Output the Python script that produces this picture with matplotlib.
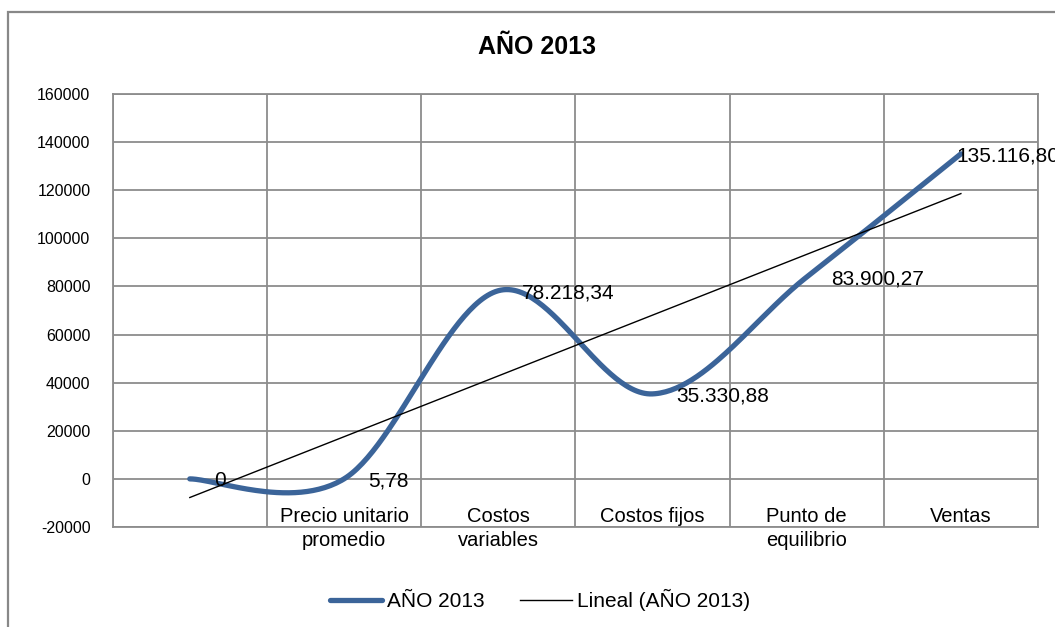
import numpy as np
import matplotlib
matplotlib.use("Agg")
import matplotlib.pyplot as plt
from matplotlib.patches import Rectangle

##WWww=--  data section: --=wwWW##
categorias = ["", "Precio unitario\npromedio", "Costos\nvariables",
              "Costos fijos", "Punto de\nequilibrio", "Ventas"]
valores    = [0.0, 5.78, 78218.34, 35330.88, 83900.27, 135116.80]
etiquetas  = ["0", "5,78", "78.218,34", "35.330,88", "83.900,27", "135.116,80"]
yticks     = list(range(-20000, 160001, 20000))

serie      = "AÑO 2013"
tendencia  = "Lineal (AÑO 2013)"

#################################
def catmull_rom(x, y, n=60):
    """ smoothed line like Excel's 'smooth line' option """
    P = np.column_stack([x, y]).astype(float)
    P = np.vstack([P[0], P, P[-1]])
    out = []
    t = np.linspace(0, 1, n)[:, None]
    for i in range(1, len(P) - 2):
        p0, p1, p2, p3 = P[i-1], P[i], P[i+1], P[i+2]
        m1 = (p2 - p0) / 2.
        m2 = (p3 - p1) / 2.
        h00 = 2*t**3 - 3*t**2 + 1
        h10 = t**3 - 2*t**2 + t
        h01 = -2*t**3 + 3*t**2
        h11 = t**3 - t**2
        out.append(h00*p1 + h10*m1 + h01*p2 + h11*m2)
    out = np.vstack(out)
    return out[:, 0], out[:, 1]

plt.rcParams['font.family'] = ['Liberation Sans', 'DejaVu Sans']

W, H = 1055, 627
fig = plt.figure(figsize=(W/100., H/100.), dpi=100)
ax  = fig.add_axes([112.7/W, 1 - 527./H, (1038 - 112.7)/W, (527. - 94.)/H])

x = np.arange(len(valores))
xs, ys = catmull_rom(x, valores)

azul = '#3B6499'
gris = '#8C8C8C'

ax.plot(xs, ys, color=azul, lw=3.8, solid_capstyle='round', label=serie, zorder=3)

# trend line (linear least squares)
b, a = np.polyfit(x + 1, valores, 1)
ax.plot(x, a + b*(x + 1), color='black', lw=1.0, label=tendencia, zorder=4)

# data labels (the last one is pushed left, as in the original)
offs = [17.3, 17.3, 17.3, 17.3, 17.3, -3.6]
for xi, v, lab, dx in zip(x, valores, etiquetas, offs):
    ax.annotate(lab, (xi, v), xytext=(dx, 0), textcoords='offset points',
                ha='left', va='center_baseline', fontsize=15, color='black',
                annotation_clip=False, zorder=5)

ax.set_xlim(-0.5, len(valores) - 0.5)
ax.set_ylim(yticks[0], yticks[-1])
ax.set_yticks(yticks)
ax.set_yticklabels([str(v) for v in yticks], fontsize=11.5)

ax.set_xticks(x)
ax.set_xticklabels(categorias, fontsize=14.5, linespacing=1.32)
ax.set_xticks(np.arange(-0.5, len(valores), 1), minor=True)

ax.tick_params(axis='y', length=0, pad=16)
ax.tick_params(axis='x', which='both', length=0, pad=-14.5)

ax.grid(axis='y', which='major', color=gris, lw=1.3)
ax.grid(axis='x', which='minor', color=gris, lw=1.3)
ax.grid(axis='x', which='major', visible=False)
ax.set_axisbelow(True)
for s in ax.spines.values():
    s.set_color(gris)
    s.set_linewidth(1.3)

# title
fig.text(537./W, 1 - 47./H, serie, ha='center', va='center',
         fontsize=18, fontweight='bold')

# legend
fig.legend(loc='center', bbox_to_anchor=(540./W, 1 - 600./H), ncol=2,
           frameon=False, fontsize=15, handlelength=2.5, handletextpad=0.25,
           columnspacing=1.7)

# chart area border (cut at right and bottom in the picture)
fig.patches.append(Rectangle((8./W, -0.05), 1.2, 1 - 12./H + 0.05,
                             transform=fig.transFigure, fill=False,
                             edgecolor='#888888', lw=1.6))

fig.savefig('out.png', dpi=100)
